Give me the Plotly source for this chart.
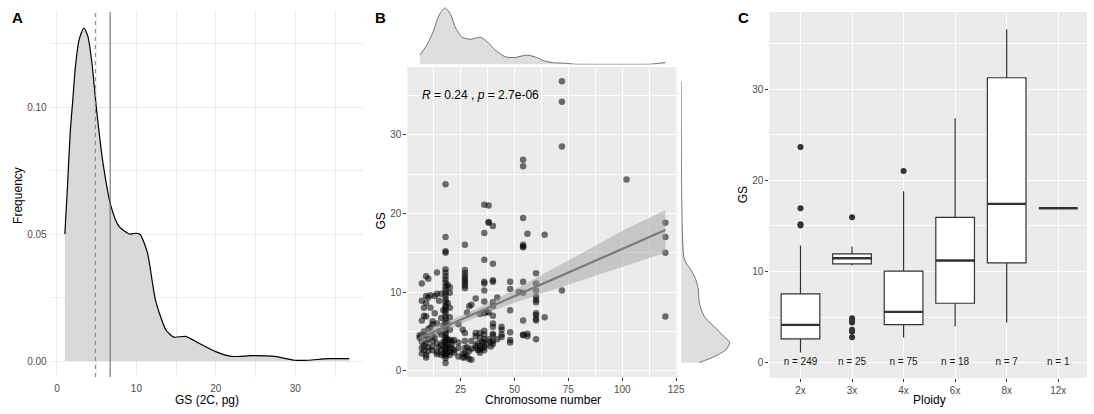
import plotly.graph_objects as go

W, H = 1094, 414

# ---------------- Panel A: genome size density ----------------
densA_gs = [1.0, 1.33, 1.67, 2.0, 2.33, 2.8, 3.38, 3.9, 4.4, 4.9,
            5.75, 6.8, 7.8, 9.1, 10.0, 10.5, 11.4, 12.4, 13.7, 14.7,
            16.2, 17.8, 19.9, 22.0, 24.5, 27.4, 29.9, 31.6, 34.1, 36.8]
densA_freq = [0.050, 0.0688, 0.0898, 0.1029, 0.116, 0.1265, 0.1311, 0.1278, 0.1175, 0.1016,
              0.079, 0.061, 0.053, 0.050, 0.0503, 0.0497, 0.0425, 0.024, 0.0123, 0.0094,
              0.0097, 0.0071, 0.0038, 0.0018, 0.0021, 0.0018, 0.0003, 0.0003, 0.0009, 0.0009]
gs_median = 4.84
gs_mean = 6.7

# ---------------- Panel B: chromosome number vs GS ----------------
scatter_chrom = [
    6, 6,
    7, 7, 7, 7, 7, 7, 7,
    8, 8, 8, 8, 8, 8,
    9, 9, 9, 9, 9, 9, 9, 9,
    10, 10, 10, 10, 10, 10,
    11, 11, 11,
    12, 12, 12, 12, 12, 12,
    13, 13, 13,
    14, 14, 14, 14, 14, 14,
    15, 15, 15,
    16, 16, 16, 16, 16, 16,
    17, 17, 17, 17,
    18, 18, 18, 18, 18, 18, 18, 18, 18, 18,
    18, 18, 18, 18, 18, 18, 18, 18, 18, 18,
    18, 18, 18, 18, 18, 18, 18, 18, 18, 18,
    18, 18, 18, 18, 18, 18, 18,
    19, 19, 19, 19, 19, 19,
    20, 20, 20, 20, 20, 20, 20, 20, 20,
    21, 21, 21,
    22, 22, 22,
    24, 24, 24, 24,
    26, 26, 26,
    27, 27, 27, 27, 27, 27, 27, 27, 27, 27, 27, 27, 27, 27,
    28, 28, 28,
    29, 29, 29,
    30, 30, 30, 30,
    32, 32, 32, 32, 32,
    33, 33,
    34, 34, 34, 34, 34, 34,
    35, 35,
    36, 36, 36, 36, 36, 36, 36, 36, 36, 36, 36, 36, 36, 36,
    37, 37,
    38, 38, 38, 38, 38,
    39, 39,
    40, 40, 40, 40, 40, 40, 40, 40, 40, 40, 40, 40, 40,
    42, 42,
    44, 44, 44, 44,
    48, 48, 48, 48, 48, 48,
    52,
    54, 54, 54, 54, 54, 54, 54, 54, 54, 54, 54,
    56, 56, 56,
    60, 60, 60, 60, 60, 60, 60, 60, 60, 60, 60,
    64, 64,
    72, 72, 72, 72,
    102,
    120, 120, 120, 120,
]
scatter_gs = [
    4.5, 4.2,
    11.1, 8.9, 6.4, 4.5, 3.7, 2.9, 2.2,
    8.0, 7.0, 5.0, 4.6, 3.2, 2.6,
    12.0, 9.5, 8.6, 6.9, 4.4, 3.5, 2.0, 1.7,
    11.7, 9.3, 5.3, 4.0, 3.0, 2.5,
    9.6, 8.0, 5.5,
    6.3, 5.9, 4.5, 3.8, 3.1, 2.6,
    9.5, 7.3, 4.2,
    12.5, 9.8, 6.0, 3.5, 2.4, 2.1,
    8.9, 5.0, 3.0,
    9.8, 6.7, 4.6, 3.3, 2.7, 2.0,
    7.7, 5.8, 3.7, 2.2,
    23.7, 17.0, 15.2, 15.0, 12.9, 12.5, 12.0, 11.6, 11.2, 10.7,
    10.3, 9.9, 9.5, 9.1, 8.7, 8.3, 8.0, 7.7, 7.3, 6.9,
    6.5, 6.1, 5.7, 5.2, 4.8, 4.5, 4.2, 3.9, 3.6, 3.3,
    3.0, 2.8, 2.5, 2.2, 1.9, 1.6, 1.0,
    10.9, 8.6, 6.0, 4.0, 3.2, 2.3,
    10.6, 9.9, 8.0, 6.8, 5.2, 3.9, 3.0, 2.4, 2.0,
    3.8, 3.4, 2.8,
    3.9, 2.6, 2.3,
    5.9, 3.6, 2.9, 1.8,
    5.2, 2.2, 1.7,
    16.0, 12.8, 12.4, 12.0, 11.7, 11.4, 11.1, 10.8, 10.5, 4.8, 3.8, 2.9, 2.2, 1.7,
    7.4, 3.0, 1.9,
    8.2, 2.5, 1.5,
    8.4, 3.8, 2.8, 1.4,
    9.2, 4.8, 4.4, 3.2, 2.9,
    3.5, 2.6,
    7.2, 4.8, 4.2, 3.2, 2.7, 2.3,
    3.7, 2.9,
    21.1, 17.5, 14.1, 11.3, 11.1, 10.2, 8.8, 7.3, 5.1, 4.6, 4.0, 3.6, 3.0, 2.6,
    7.5, 3.3,
    21.0, 18.9, 18.8, 7.4, 4.0,
    3.7, 3.1,
    18.4, 13.6, 11.5, 11.3, 8.7, 8.2, 7.0, 6.0, 5.6, 4.7, 4.5, 3.8, 3.4,
    9.3, 4.0,
    5.6, 5.2, 4.6, 4.3,
    11.3, 10.4, 7.7, 4.9, 3.9, 3.6,
    10.0,
    26.8, 26.0, 19.4, 16.0, 15.8, 15.7, 11.3, 9.9, 6.4, 4.6, 4.5,
    17.4, 4.7, 4.4,
    12.4, 11.1, 10.2, 9.4, 9.0, 8.7, 7.3, 7.1, 6.6, 6.4, 4.0,
    17.3, 6.8,
    36.8, 34.2, 28.5, 10.2,
    24.3,
    18.8, 17.0, 15.0, 6.9,
]
fit_chrom = [6, 15, 28, 45, 60, 80, 100, 120]
fit_gs = [4.2, 5.28, 6.84, 8.88, 10.68, 13.08, 15.48, 17.88]
fit_lower = [3.35, 4.63, 6.33, 8.15, 9.57, 11.39, 13.19, 15.0]
fit_upper = [5.05, 5.93, 7.35, 9.61, 11.79, 14.77, 17.77, 20.4]
stat_label = "<i>R</i> = 0.24 , <i>p</i> = 2.7e-06"

top_chrom = [6.1, 8.9, 12.0, 15.1, 17.8, 20.4, 22.7, 25.8, 29.6, 34.2, 37.3, 41.1,
             45.7, 50.3, 55.7, 60.3, 64.1, 68.7, 73.3, 77.9, 87.1, 102.4, 113.1, 120.0]
top_dens = [28, 53, 93, 148, 168, 148, 108, 81, 75, 81, 68, 43,
            23, 21, 28, 21, 10, 5, 4, 1, 0.5, 0.5, 1, 6]
right_gs = [1.05, 1.8, 2.67, 3.6, 4.4, 5.6, 6.9, 8.6, 10.3, 11.5, 12.8, 13.7,
            14.5, 16.2, 21.3, 28.0, 36.7]
right_dens = [55, 100, 135, 146, 128, 100, 70, 55, 52, 45, 30, 15,
              8, 5, 2, 0.8, 0]

# ---------------- Panel C: GS by ploidy ----------------
ploidy = ["2x", "3x", "4x", "6x", "8x", "12x"]
box_low = [1.1, 10.65, 2.74, 3.95, 4.39, 16.94]
box_q1 = [2.6, 10.83, 4.17, 6.51, 10.94, 16.94]
box_median = [4.13, 11.45, 5.56, 11.2, 17.42, 16.94]
box_q3 = [7.54, 11.93, 10.03, 15.95, 31.28, 16.94]
box_high = [12.84, 12.73, 18.8, 26.82, 36.6, 16.94]
counts = [249, 25, 75, 18, 7, 1]
outlier_ploidy = ["2x", "2x", "2x", "2x", "3x", "3x", "3x", "3x", "3x", "3x", "3x", "4x"]
outlier_gs = [23.67, 16.94, 15.2, 15.04, 15.95, 4.87, 4.61, 4.39, 3.59, 3.37, 2.78, 21.04]

FONT = "Liberation Sans, Arial, sans-serif"
TICKFONT = dict(family=FONT, size=10, color="#4d4d4d")

fig = go.Figure()

# Panel A
fig.add_trace(go.Scatter(x=densA_gs, y=densA_freq, mode="lines", fill="tozeroy",
                         fillcolor="#d9d9d9",
                         line=dict(color="black", width=1.2, shape="spline", smoothing=0.6),
                         xaxis="x", yaxis="y", showlegend=False, hoverinfo="skip"))

# Panel B
fig.add_trace(go.Scatter(x=scatter_chrom, y=scatter_gs, mode="markers",
                         marker=dict(size=6.5, color="rgba(0,0,0,0.55)", line=dict(width=0)),
                         xaxis="x2", yaxis="y2", showlegend=False))
fig.add_trace(go.Scatter(x=fit_chrom, y=fit_lower, mode="lines",
                         line=dict(width=0, shape="spline"), xaxis="x2", yaxis="y2",
                         showlegend=False, hoverinfo="skip"))
fig.add_trace(go.Scatter(x=fit_chrom, y=fit_upper, mode="lines", fill="tonexty",
                         fillcolor="rgba(153,153,153,0.45)",
                         line=dict(width=0, shape="spline"), xaxis="x2", yaxis="y2",
                         showlegend=False, hoverinfo="skip"))
fig.add_trace(go.Scatter(x=fit_chrom, y=fit_gs, mode="lines",
                         line=dict(color="#7a7a7a", width=2.2), xaxis="x2", yaxis="y2",
                         showlegend=False))
fig.add_trace(go.Scatter(x=top_chrom, y=top_dens, mode="lines", fill="tozeroy",
                         fillcolor="#dedede",
                         line=dict(color="#707070", width=1, shape="spline", smoothing=0.7),
                         xaxis="x3", yaxis="y3", showlegend=False, hoverinfo="skip"))
fig.add_trace(go.Scatter(x=right_dens, y=right_gs, mode="lines", fill="tozerox",
                         fillcolor="#dedede",
                         line=dict(color="#707070", width=1, shape="spline", smoothing=0.7),
                         xaxis="x4", yaxis="y4", showlegend=False, hoverinfo="skip"))

# Panel C
pos = list(range(len(ploidy)))
fig.add_trace(go.Box(x=pos, q1=box_q1, median=box_median, q3=box_q3,
                     lowerfence=box_low, upperfence=box_high, width=0.75,
                     fillcolor="white", line=dict(color="#333333", width=1.2),
                     whiskerwidth=0, boxpoints=False, xaxis="x5", yaxis="y5",
                     showlegend=False))
med_x, med_y = [], []
for i, m in enumerate(box_median):
    med_x += [i - 0.375, i + 0.375, None]
    med_y += [m, m, None]
fig.add_trace(go.Scatter(x=med_x, y=med_y, mode="lines",
                         line=dict(color="#333333", width=2.4), xaxis="x5", yaxis="y5",
                         showlegend=False, hoverinfo="skip"))
fig.add_trace(go.Scatter(x=[ploidy.index(p) for p in outlier_ploidy], y=outlier_gs,
                         mode="markers", marker=dict(size=6, color="#333333"),
                         xaxis="x5", yaxis="y5", showlegend=False))
label_y = [0] * len(ploidy)
fig.add_trace(go.Scatter(x=pos, y=label_y, mode="text",
                         text=[f"n = {c}" for c in counts],
                         textfont=dict(family=FONT, size=10, color="#1a1a1a"),
                         xaxis="x5", yaxis="y5", showlegend=False, hoverinfo="skip"))

def dx(p):
    return p / W

def dy(p):
    return 1 - p / H

minimal_grid = dict(showgrid=True, gridcolor="#ebebeb", gridwidth=1, zeroline=False,
                    showline=False, ticks="", tickfont=TICKFONT)
gray_grid = dict(showgrid=True, gridcolor="white", gridwidth=1.1, zeroline=False,
                 showline=False, ticks="outside", ticklen=3, tickwidth=1,
                 tickcolor="#333333", tickfont=TICKFONT)

fig.update_layout(
    width=W, height=H, margin=dict(l=0, r=0, t=0, b=0),
    paper_bgcolor="white", plot_bgcolor="white",
    font=dict(family=FONT),
    xaxis=dict(domain=[dx(50), dx(366)], range=[-0.91, 38.6], tickvals=[0, 10, 20, 30],
               minor=dict(dtick=5, showgrid=True, gridcolor="#ebebeb", gridwidth=0.5),
               ticklabelstandoff=4, anchor="y", **minimal_grid),
    yaxis=dict(domain=[dy(377), dy(12)], range=[-0.0063, 0.1374], tickvals=[0, 0.05, 0.10],
               ticktext=["0.00", "0.05", "0.10"],
               minor=dict(dtick=0.025, showgrid=True, gridcolor="#ebebeb", gridwidth=0.5),
               ticklabelstandoff=2, anchor="x", **minimal_grid),
    xaxis2=dict(domain=[dx(410), dx(682)], range=[0.3, 125.7], tickvals=[25, 50, 75, 100, 125],
                minor=dict(tick0=0, dtick=12.5, showgrid=True, gridcolor="white", gridwidth=0.5, ticks=""),
                anchor="y2", **gray_grid),
    yaxis2=dict(domain=[dy(377), dy(67)], range=[-0.79, 38.6], tickvals=[0, 10, 20, 30],
                minor=dict(dtick=5, showgrid=True, gridcolor="white", gridwidth=0.5, ticks=""),
                anchor="x2", **gray_grid),
    xaxis3=dict(domain=[dx(410), dx(682)], range=[0.3, 125.7], visible=False, anchor="y3"),
    yaxis3=dict(domain=[dy(64.5), dy(6)], range=[0, 174], visible=False, anchor="x3"),
    xaxis4=dict(domain=[dx(685.5), dx(740)], range=[0, 163], visible=False, anchor="y4"),
    yaxis4=dict(domain=[dy(377), dy(67)], range=[-0.79, 38.6], visible=False, anchor="x4"),
    xaxis5=dict(domain=[dx(774.3), 1.0], range=[-0.604, 5.558], tickvals=pos, ticktext=ploidy,
                anchor="y5", **gray_grid),
    yaxis5=dict(domain=[dy(378), dy(12)], range=[-1.7, 38.5], tickvals=[0, 10, 20, 30],
                minor=dict(dtick=5, showgrid=True, gridcolor="white", gridwidth=0.5, ticks=""),
                anchor="x5", **gray_grid),
)

shapes = [
    dict(type="rect", xref="x2 domain", yref="y2 domain", x0=0, x1=1, y0=0, y1=1,
         fillcolor="#ebebeb", line=dict(width=0), layer="below"),
    dict(type="rect", xref="x5 domain", yref="y5 domain", x0=0, x1=1, y0=0, y1=1,
         fillcolor="#ebebeb", line=dict(width=0), layer="below"),
    dict(type="line", xref="x", yref="y domain", x0=gs_median, x1=gs_median, y0=0, y1=1,
         line=dict(color="#7f7f7f", width=1, dash="4px,4px")),
    dict(type="line", xref="x", yref="y domain", x0=gs_mean, x1=gs_mean, y0=0, y1=1,
         line=dict(color="#6e6e6e", width=1.1)),
]
fig.update_layout(shapes=shapes)

def paper_ann(text, x, y, size=12, bold=False, angle=0):
    return dict(text=f"<b>{text}</b>" if bold else text, x=dx(x), y=dy(y),
                xref="paper", yref="paper", showarrow=False, textangle=angle,
                font=dict(family=FONT, size=size, color="black"),
                xanchor="center", yanchor="middle")

annotations = [
    paper_ann("A", 18, 18, size=15, bold=True),
    paper_ann("B", 383, 18, size=15, bold=True),
    paper_ann("C", 748, 18, size=15, bold=True),
    paper_ann("Frequency", 18, 195, angle=-90),
    paper_ann("GS (2C, pg)", 208, 400),
    paper_ann("GS", 383, 221, angle=-90),
    paper_ann("Chromosome number", 546, 400),
    paper_ann("GS", 748, 195, angle=-90),
    paper_ann("Ploidy", 935, 400),
    dict(text=stat_label, x=6.15, y=35.0, xref="x2", yref="y2", showarrow=False,
         xanchor="left", yanchor="middle", font=dict(family=FONT, size=12, color="black")),
]
fig.update_layout(annotations=annotations)

fig.write_html("out.html")
